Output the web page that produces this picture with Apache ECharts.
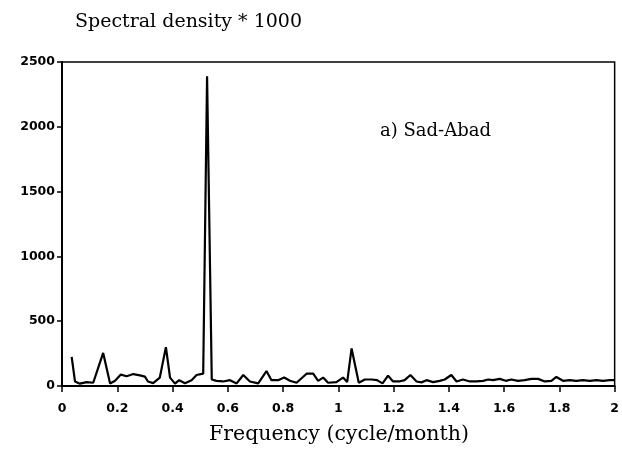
<!DOCTYPE html>
<html><head><meta charset="utf-8">
<script src="https://cdn.jsdelivr.net/npm/echarts@6/dist/echarts.min.js"></script>
<style>html,body{margin:0;padding:0;background:#fff}#c{width:622px;height:468px}</style>
</head><body><div id="c"></div>
<script>
const freq = [0.035,0.047,0.065,0.089,0.113,0.149,0.174,0.192,0.213,0.234,0.258,0.282,0.30,0.311,0.33,0.354,0.376,0.391,0.409,0.424,0.445,0.469,0.487,0.511,0.525,0.542,0.559,0.583,0.608,0.632,0.656,0.68,0.71,0.74,0.758,0.782,0.804,0.825,0.849,0.885,0.909,0.927,0.945,0.963,0.993,1.017,1.032,1.048,1.074,1.096,1.12,1.14,1.16,1.18,1.198,1.22,1.24,1.261,1.283,1.301,1.319,1.343,1.367,1.385,1.409,1.428,1.451,1.476,1.5,1.524,1.542,1.56,1.584,1.606,1.626,1.65,1.674,1.699,1.723,1.747,1.771,1.789,1.813,1.837,1.861,1.885,1.91,1.934,1.958,1.982,2.0];
const density = [225,35,18,30,25,255,20,40,88,75,92,82,72,35,22,65,300,65,18,45,22,45,85,95,2390,50,40,35,45,20,85,35,20,115,45,45,65,40,25,95,95,40,65,25,30,65,30,290,25,50,50,45,20,80,35,35,45,85,35,28,45,30,40,50,85,35,50,35,35,40,50,45,55,40,50,40,45,55,55,35,40,70,40,45,40,45,40,45,40,45,45];
const yTicks = [0,500,1000,1500,2000,2500];
const xTicks = [0,0.2,0.4,0.6,0.8,1,1.2,1.4,1.6,1.8,2];
const titleText = 'Spectral density * 1000';
const seriesLabel = 'a) Sad-Abad';
const xTitle = 'Frequency (cycle/month)';

const chart = echarts.init(document.getElementById('c'), null, {renderer:'canvas'});
const tickFont = {fontFamily:'DejaVu Sans', fontWeight:'bold', fontSize:12.5, color:'#000'};
chart.setOption({
  animation:false,
  backgroundColor:'#fff',
  grid:{left:62,right:7,top:62,bottom:82,show:true,borderColor:'#000',borderWidth:1.5,backgroundColor:'transparent'},
  title:[
    {text:titleText,left:70,top:8,textStyle:{fontFamily:'DejaVu Serif',fontWeight:'normal',fontSize:19,color:'#000'}},
    {text:seriesLabel,left:375,top:117,textStyle:{fontFamily:'DejaVu Serif',fontWeight:'normal',fontSize:18,color:'#000'}},
    {text:xTitle,left:204,top:419,textStyle:{fontFamily:'DejaVu Serif',fontWeight:'normal',fontSize:20.5,color:'#000'}}
  ],
  xAxis:{type:'value',min:0,max:2,interval:0.2,
    axisLine:{show:true,onZero:false,lineStyle:{color:'#000',width:2}},
    axisTick:{show:true,inside:false,length:6,lineStyle:{color:'#000',width:1.5}},
    splitLine:{show:false},
    axisLabel:Object.assign({margin:16,formatter:v=>{const m=xTicks.find(t=>Math.abs(t-v)<1e-6);return m===undefined?'':String(m);}},tickFont)},
  yAxis:{type:'value',min:0,max:2500,interval:500,
    axisLine:{show:true,lineStyle:{color:'#000',width:2}},
    axisTick:{show:true,inside:false,length:5,lineStyle:{color:'#000',width:1.5}},
    splitLine:{show:false},
    axisLabel:Object.assign({margin:7,formatter:v=>yTicks.includes(v)?String(v):''},tickFont)},
  series:[{type:'line',data:freq.map((f,i)=>[f,density[i]]),showSymbol:false,symbol:'none',
    lineStyle:{color:'#000',width:2.2},z:3}]
});
</script></body></html>
